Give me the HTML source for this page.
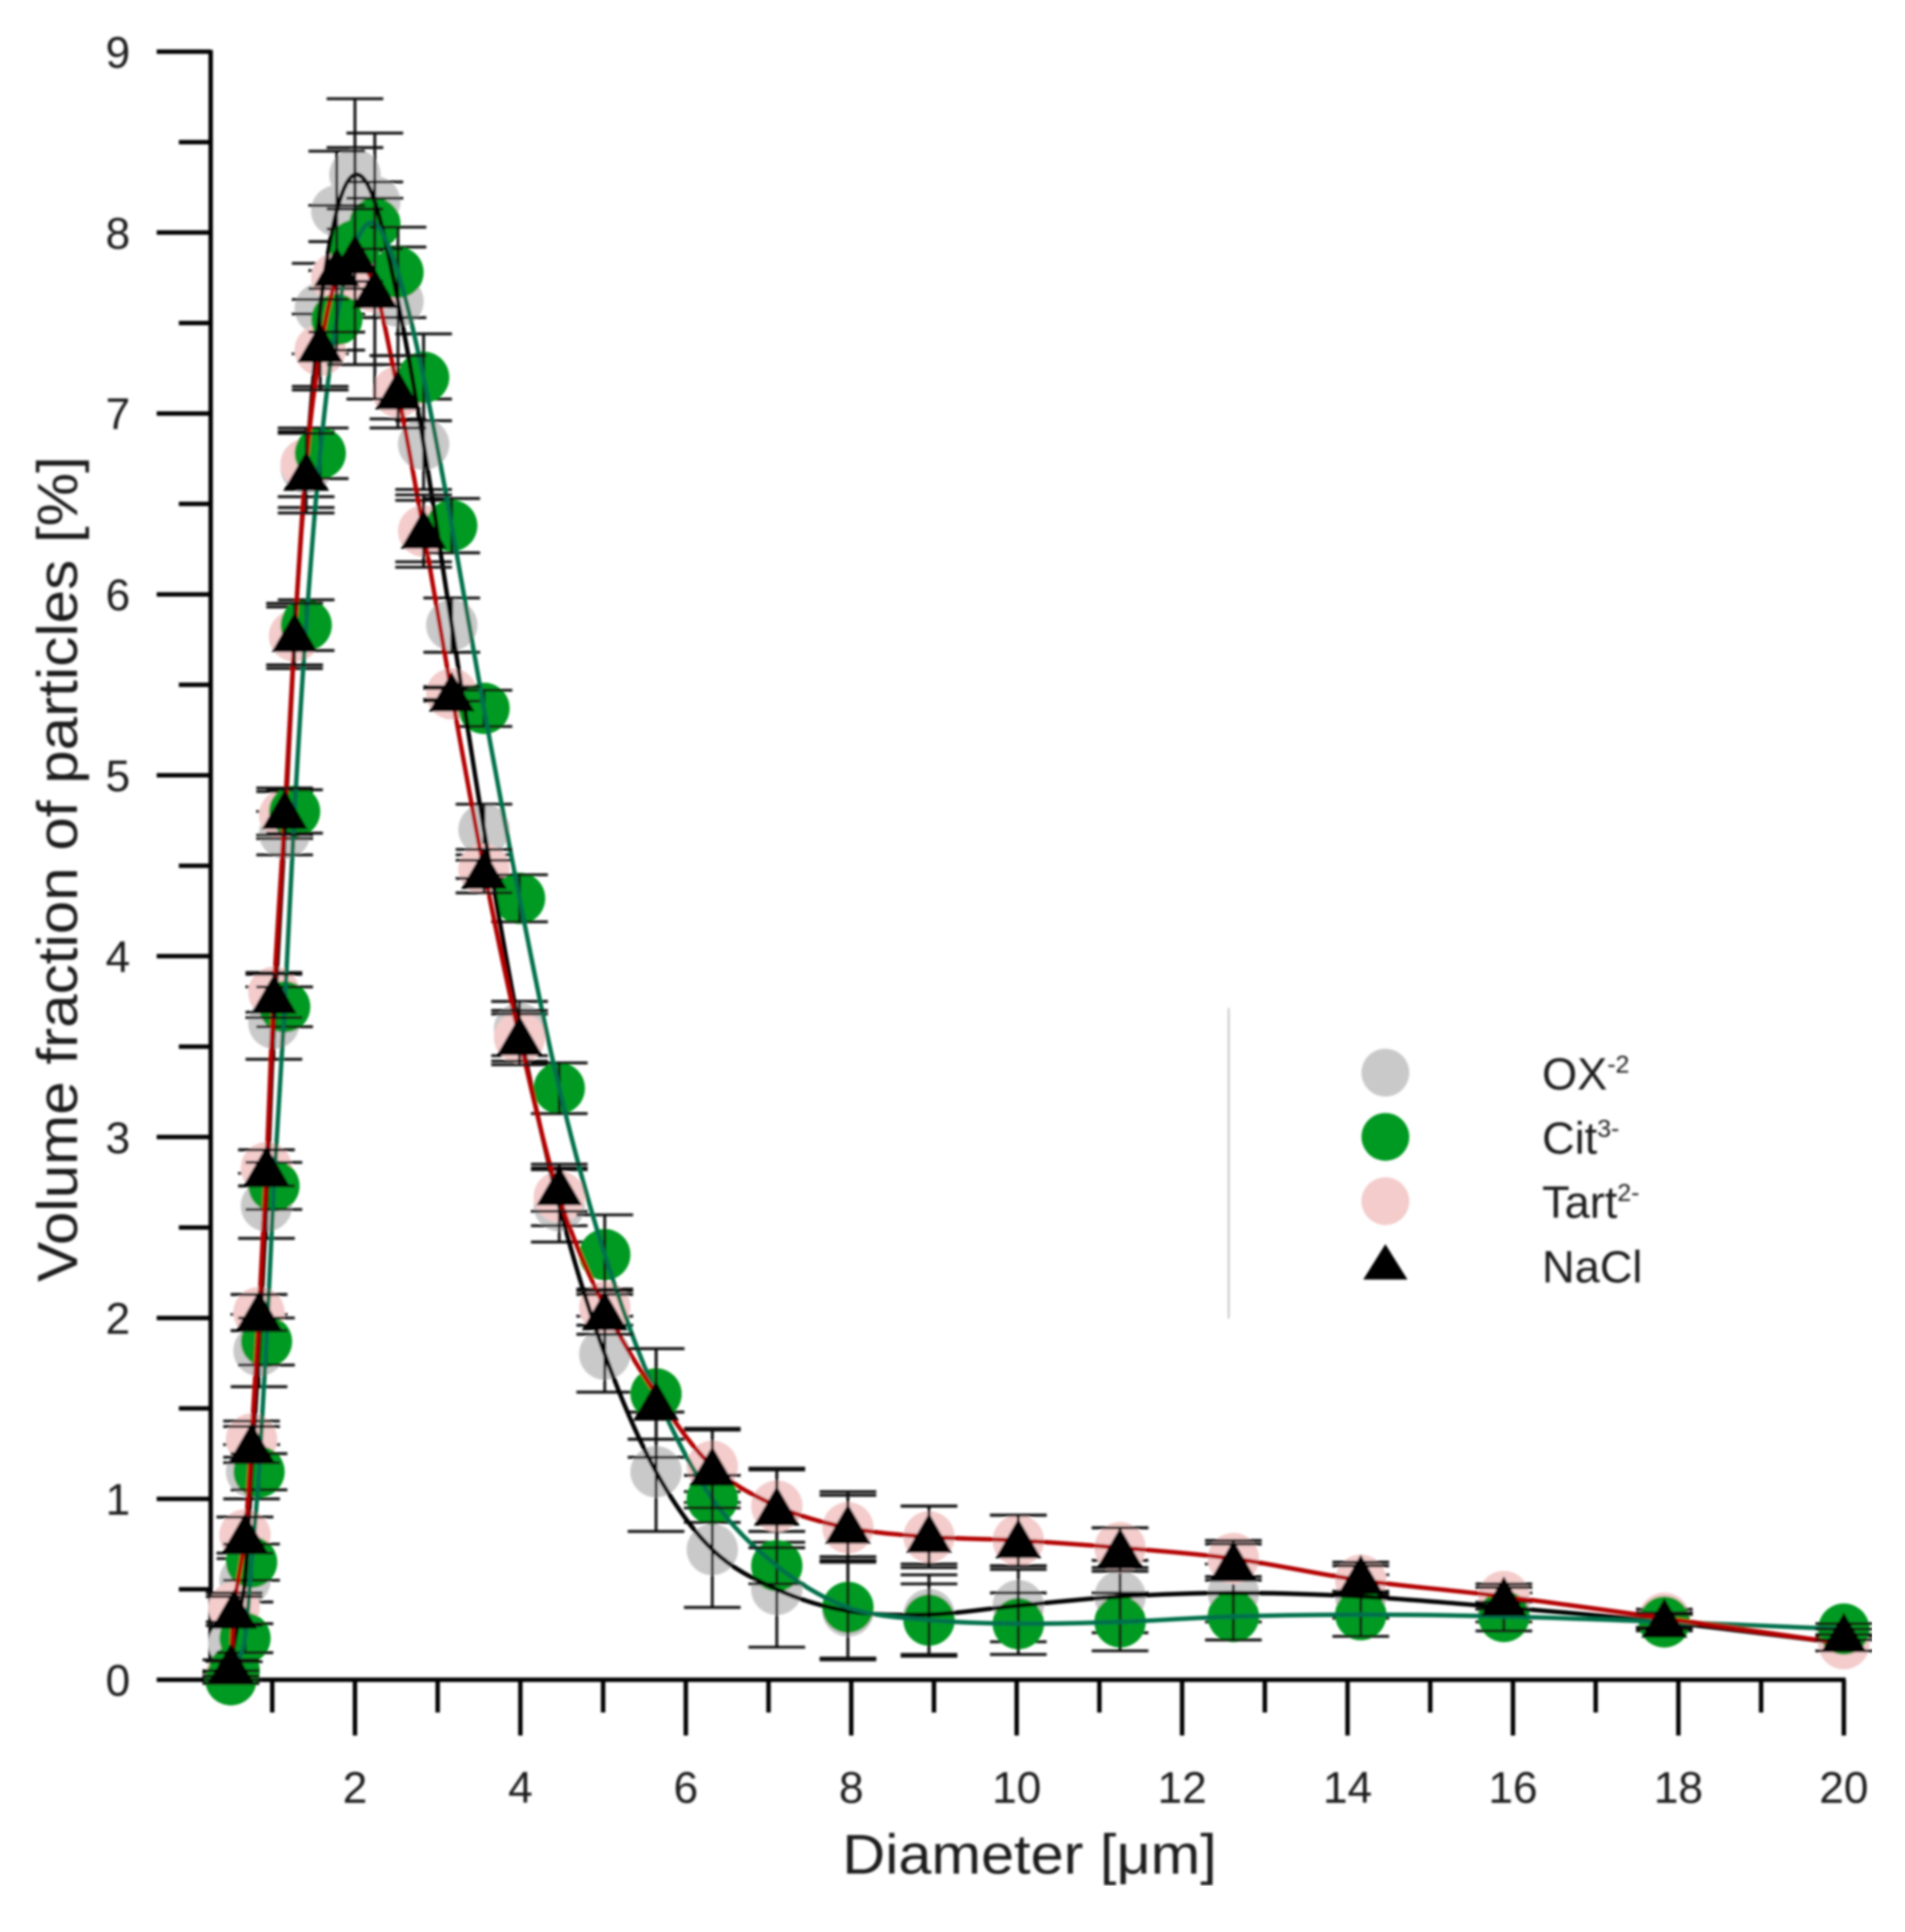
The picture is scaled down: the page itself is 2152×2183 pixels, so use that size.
<!DOCTYPE html>
<html><head><meta charset="utf-8"><title>Particle size distribution</title>
<style>html,body{margin:0;padding:0;background:#fff}svg{display:block}text{font-family:"Liberation Sans",sans-serif;fill:#1a1a1a}</style>
</head><body>
<svg id="chart" xmlns="http://www.w3.org/2000/svg" width="2152" height="2183" viewBox="0 0 2152 2183">
<defs><filter id="soft" x="0" y="0" width="100%" height="100%"><feGaussianBlur stdDeviation="1.2"/></filter></defs>
<g id="root" filter="url(#soft)"></g>
</svg>
<script>
const diameters=[0.5,0.54,0.67,0.75,0.84,0.93,1.02,1.15,1.27,1.41,1.58,1.78,2.0,2.24,2.52,2.83,3.17,3.56,3.99,4.47,5.02,5.64,6.32,7.1,7.96,8.94,10.02,11.25,12.62,14.16,15.89,17.83,20.0];
const yTicks=[0,1,2,3,4,5,6,7,8,9];
const xTicks=[2,4,6,8,10,12,14,16,18,20];
const yMinorTicks=[0.5,1.5,2.5,3.5,4.5,5.5,6.5,7.5,8.5];
const xMinorTicks=[1,3,5,7,9,11,13,15,17,19];
const oxValues=[0.0,0.2,0.55,1.15,1.82,2.62,3.63,4.68,5.77,6.7,7.58,8.12,8.32,8.17,7.62,6.83,5.83,4.7,3.6,2.62,1.8,1.15,0.72,0.5,0.38,0.36,0.41,0.46,0.48,0.46,0.4,0.32,0.2];
const oxErrors=[0.02,0.1,0.12,0.15,0.2,0.18,0.2,0.12,0.18,0.22,0.25,0.33,0.42,0.38,0.3,0.25,0.15,0.14,0.15,0.2,0.21,0.33,0.32,0.32,0.27,0.22,0.2,0.2,0.16,0.12,0.08,0.05,0.04];
const citValues=[0.0,0.05,0.23,0.65,1.15,1.87,2.73,3.72,4.8,5.83,6.78,7.52,7.93,8.05,7.78,7.2,6.38,5.37,4.32,3.27,2.35,1.58,1.0,0.63,0.4,0.33,0.31,0.32,0.35,0.36,0.35,0.32,0.28];
const citErrors=[0.02,0.05,0.08,0.1,0.1,0.13,0.13,0.11,0.12,0.14,0.14,0.17,0.2,0.14,0.25,0.24,0.15,0.1,0.13,0.14,0.22,0.25,0.13,0.1,0.28,0.2,0.17,0.16,0.13,0.12,0.08,0.04,0.03];
const tartValues=[0.02,0.4,0.8,1.33,2.03,2.83,3.8,4.78,5.77,6.72,7.35,7.75,7.82,7.7,7.12,6.35,5.45,4.48,3.55,2.67,2.06,1.58,1.18,0.96,0.84,0.79,0.77,0.73,0.67,0.55,0.46,0.34,0.2];
const tartErrors=[0.02,0.08,0.1,0.1,0.1,0.1,0.11,0.13,0.16,0.18,0.2,0.2,0.2,0.17,0.15,0.17,0.03,0.05,0.13,0.16,0.1,0.25,0.2,0.2,0.18,0.17,0.14,0.11,0.1,0.08,0.07,0.05,0.04];
const naclValues=[0.08,0.38,0.8,1.3,2.03,2.83,3.78,4.8,5.78,6.67,7.38,7.8,7.87,7.68,7.12,6.35,5.45,4.47,3.55,2.72,2.03,1.53,1.17,0.95,0.85,0.8,0.77,0.72,0.65,0.57,0.45,0.33,0.25];
const naclErrors=[0.03,0.08,0.1,0.1,0.1,0.1,0.12,0.13,0.17,0.22,0.25,0.35,0.6,0.6,0.2,0.2,0.04,0.12,0.15,0.13,0.12,0.3,0.22,0.22,0.19,0.16,0.14,0.12,0.1,0.08,0.06,0.04,0.03];
const legendLabels=["OX","Cit","Tart","NaCl"];
const legendSups=["-2","3-","2-",""];

const svgNS="http://www.w3.org/2000/svg";
const root=document.getElementById('root');
function xScale(d){return 214.1+93.44*d;}
function yScale(v){return 1898-204.4*v;}
function mk(tag,attrs,parent){const e=document.createElementNS(svgNS,tag);for(const k in attrs)e.setAttribute(k,attrs[k]);(parent||root).appendChild(e);return e;}
function smooth(xs,ys){
  const p=xs.map((d,i)=>[xScale(d),yScale(ys[i])]);
  let s='M'+p[0][0].toFixed(1)+' '+p[0][1].toFixed(1);
  for(let i=0;i<p.length-1;i++){
    const a=p[Math.max(0,i-1)],b=p[i],c=p[i+1],e=p[Math.min(p.length-1,i+2)];
    const c1x=b[0]+(c[0]-a[0])/6,c1y=b[1]+(c[1]-a[1])/6,c2x=c[0]-(e[0]-b[0])/6,c2y=c[1]-(e[1]-b[1])/6;
    s+='C'+c1x.toFixed(1)+' '+c1y.toFixed(1)+' '+c2x.toFixed(1)+' '+c2y.toFixed(1)+' '+c[0].toFixed(1)+' '+c[1].toFixed(1);
  }
  return s;
}

/* axes */
const axisColor='#000';
const yAxis=mk('line',{x1:238,x2:238,y1:yScale(9)-2,y2:yScale(0),stroke:axisColor,'stroke-width':5});


const xAxis=mk('line',{x1:177,x2:xScale(20)+2,y1:yScale(0),y2:yScale(0),stroke:axisColor,'stroke-width':5});


yTicks.forEach(v=>{
  const t=mk('line',{x1:177,x2:238,y1:yScale(v),y2:yScale(v),stroke:axisColor,'stroke-width':5});
  
  
  const l=mk('text',{x:147,y:yScale(v)+18,'text-anchor':'end','font-size':50});
  l.textContent=String(v);
  
  
});
yMinorTicks.forEach(v=>{
  const t=mk('line',{x1:202,x2:238,y1:yScale(v),y2:yScale(v),stroke:axisColor,'stroke-width':5});
  
  
});
xTicks.forEach(v=>{
  const t=mk('line',{x1:xScale(v),x2:xScale(v),y1:yScale(0),y2:yScale(0)+63,stroke:axisColor,'stroke-width':5});
  
  
  const l=mk('text',{x:xScale(v),y:2037,'text-anchor':'middle','font-size':50});
  l.textContent=String(v);
  
  
});
xMinorTicks.forEach(v=>{
  const t=mk('line',{x1:xScale(v),x2:xScale(v),y1:yScale(0),y2:yScale(0)+37,stroke:axisColor,'stroke-width':5});
  
  
});
const yTitle=mk('text',{x:0,y:0,transform:'translate(87,982) rotate(-90)','text-anchor':'middle','font-size':64,textLength:933,lengthAdjust:'spacingAndGlyphs'});
yTitle.textContent='Volume fraction of particles [%]';


const xTitle=mk('text',{x:1163,y:2117,'text-anchor':'middle','font-size':63,textLength:423,lengthAdjust:'spacingAndGlyphs'});
xTitle.textContent='Diameter [μm]';



/* series */
function errorBars(values,errors,color){
  values.forEach((v,i)=>{
    const cx=xScale(diameters[i]),e=errors[i];
    const g=mk('path',{d:'M'+cx+' '+yScale(v+e)+'V'+yScale(v-e)+'M'+(cx-32)+' '+yScale(v+e)+'H'+(cx+32)+'M'+(cx-32)+' '+yScale(v-e)+'H'+(cx+32),fill:'none',stroke:color,'stroke-width':3.2});
    
    
  });
}
function circles(values,fill,name){
  values.forEach((v,i)=>{
    const c=mk('circle',{cx:xScale(diameters[i]),cy:yScale(v),r:29,fill:fill});
    
    
  });
}
circles(oxValues,'#c9c9c9','ox-point');
errorBars(oxValues,oxErrors,'#111');
circles(tartValues,'#f3cccb','tart-point');
errorBars(tartValues,tartErrors,'#111');
circles(citValues,'#029a23','cit-point');
errorBars(citValues,citErrors,'#111');

const oxCurve=mk('path',{d:smooth(diameters,oxValues),fill:'none',stroke:'#000','stroke-width':5});


const citCurve=mk('path',{d:smooth(diameters,citValues),fill:'none',stroke:'#006f4b','stroke-width':5});


const tartCurve=mk('path',{d:smooth(diameters,tartValues),fill:'none',stroke:'#b40000','stroke-width':5});



errorBars(naclValues,naclErrors,'#111');
naclValues.forEach((v,i)=>{
  const cx=xScale(diameters[i]),cy=yScale(v);
  const t=mk('path',{d:'M'+cx+' '+(cy-25)+'L'+(cx+26)+' '+(cy+20)+'L'+(cx-26)+' '+(cy+20)+'Z',fill:'#000'});
  
  
});

/* legend */
const legendRule=mk('line',{x1:1388,x2:1388,y1:1139,y2:1490,stroke:'#cfcfcf','stroke-width':2.5});


const legendFills=['#c9c9c9','#029a23','#f3cccb'];
legendLabels.forEach((label,i)=>{
  const cy=1212+i*72.6;
  if(i<3){
    const c=mk('circle',{cx:1565,cy:cy,r:27,fill:legendFills[i]});
    
    
  }else{
    const t=mk('path',{d:'M1565 '+(cy-24)+'L1590 '+(cy+16)+'L1540 '+(cy+16)+'Z',fill:'#000'});
    
    
  }
  const txt=mk('text',{x:1742,y:cy+19,'font-size':51});
  txt.textContent=label;
  
  
  if(legendSups[i]){
    const sup=mk('tspan',{'font-size':28,dy:-19},txt);
    sup.textContent=legendSups[i];
  }
});
</script>
</body></html>
